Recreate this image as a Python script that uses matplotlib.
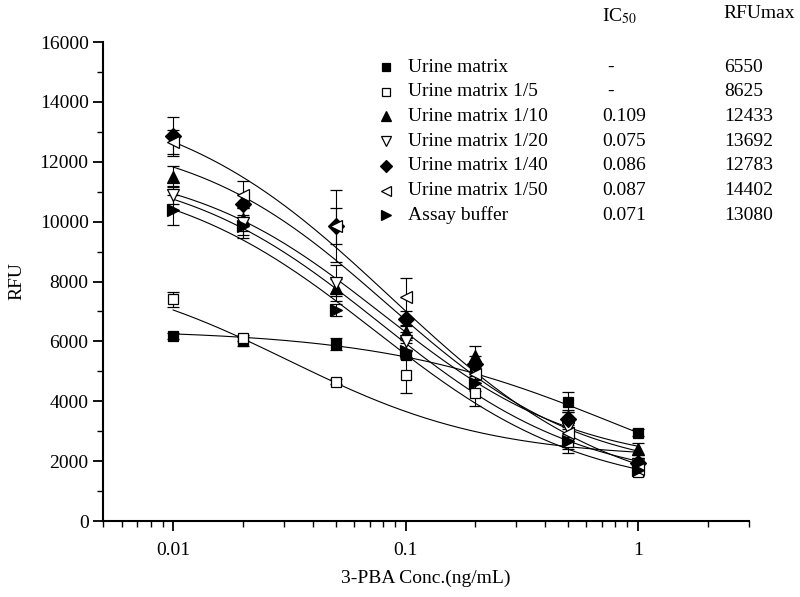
import numpy as np
import matplotlib
matplotlib.use("Agg")
from matplotlib import pyplot as plt
from matplotlib.lines import Line2D
from matplotlib.ticker import LogLocator, NullFormatter, MultipleLocator, FixedLocator, FixedFormatter

plt.rcParams.update({
    "font.family": "Liberation Serif",
    "font.size": 14,
    "mathtext.fontset": "stix",
})

conc = [0.01, 0.02, 0.05, 0.1, 0.2, 0.5, 1.0]

names = ["Urine matrix", "Urine matrix 1/5", "Urine matrix 1/10", "Urine matrix 1/20",
         "Urine matrix 1/40", "Urine matrix 1/50", "Assay buffer"]
ic50_txt = ["-", "-", "0.109", "0.075", "0.086", "0.087", "0.071"]
rfumax_txt = ["6550", "8625", "12433", "13692", "12783", "14402", "13080"]

rfu_urine = [6180, 6000, 5920, 5550, 5150, 3980, 2950]
rfu_1_5 = [7400, 6100, 4650, 4880, 4280, 2650, 1650]
rfu_1_10 = [11500, 10100, 7800, 6300, 5500, 3470, 2420]
rfu_1_20 = [10900, 9950, 7950, 6000, 5000, 3100, 1900]
rfu_1_40 = [12850, 10580, 9850, 6750, 5250, 3400, 1950]
rfu_1_50 = [12650, 10900, 9850, 7480, 4900, 2950, 1750]
rfu_buffer = [10380, 9850, 7050, 5680, 4600, 2680, 1700]

err_urine = [100, 150, 200, 150, 200, 330, 120]
err_1_5 = [250, 100, 80, 600, 450, 250, 150]
err_1_10 = [350, 400, 300, 250, 330, 250, 200]
err_1_20 = [300, 500, 600, 300, 300, 300, 150]
err_1_40 = [650, 350, 1200, 250, 250, 250, 150]
err_1_50 = [400, 450, 600, 650, 300, 350, 150]
err_buffer = [500, 300, 200, 250, 250, 400, 150]

# four-parameter logistic fits: top, slope, midpoint, bottom
fit_top = [6400, 8625, 12000, 12000, 13000, 14402, 11800]
fit_slope = [0.844, 1.0, 1.033, 0.99, 1.025, 0.9, 0.96]
fit_mid = [0.83, 0.0314, 0.0798, 0.078, 0.0833, 0.087, 0.074]
fit_bottom = [0, 2100, 1800, 1200, 1500, 500, 900]

series = [rfu_urine, rfu_1_5, rfu_1_10, rfu_1_20, rfu_1_40, rfu_1_50, rfu_buffer]
errors = [err_urine, err_1_5, err_1_10, err_1_20, err_1_40, err_1_50, err_buffer]
markers = ["s", "s", "^", "v", "D", "<", ">"]
filled = [True, False, True, False, True, False, True]
msizes = [7.5, 7.5, 9, 9, 8, 9, 9]


def four_pl(x, a, b, c, d):
    return d + (a - d) / (1 + (x / c) ** b)


fig = plt.figure(figsize=(8, 5.97), dpi=100)
ax = fig.add_axes([0.129, 0.1273, 0.807, 0.8023])

xs = np.logspace(np.log10(conc[0]), np.log10(conc[-1]), 200)
for i, (y, e) in enumerate(zip(series, errors)):
    ax.plot(xs, four_pl(xs, fit_top[i], fit_slope[i], fit_mid[i], fit_bottom[i]),
            color="black", lw=0.8, zorder=2)
    ax.errorbar(conc, y, yerr=e, fmt=markers[i], ms=msizes[i],
                mfc="black" if filled[i] else "white",
                mec="black", mew=0.9, ecolor="black", elinewidth=0.8, capsize=4,
                capthick=0.8, zorder=3)

ax.set_xscale("log")
ax.set_xlim(0.005, 3)
ax.set_ylim(0, 16000)
ax.yaxis.set_major_locator(MultipleLocator(2000))
ax.yaxis.set_minor_locator(MultipleLocator(1000))
ax.xaxis.set_major_locator(FixedLocator([0.01, 0.1, 1]))
ax.xaxis.set_major_formatter(FixedFormatter(["0.01", "0.1", "1"]))
ax.xaxis.set_minor_locator(LogLocator(base=10, subs=np.arange(2, 10)))
ax.xaxis.set_minor_formatter(NullFormatter())
for side in ["top", "right"]:
    ax.spines[side].set_visible(False)
for side in ["left", "bottom"]:
    ax.spines[side].set_linewidth(1.5)
ax.tick_params(which="major", direction="out", length=7, width=1.3, labelsize=14)
ax.tick_params(which="minor", direction="out", length=4, width=1.0)
ax.tick_params(axis="x", which="major", pad=8)
ax.set_xlabel("3-PBA Conc.(ng/mL)", fontsize=14, labelpad=8)
ax.set_ylabel("RFU", fontsize=14, labelpad=10)

# legend table
W, H = 800, 597
row0, step = 67, 24.7
fig.text(602 / W, 1 - 16 / H, "IC$_{50}$", fontsize=14, va="center", ha="left")
fig.text(723 / W, 1 - 13 / H, "RFUmax", fontsize=14, va="center", ha="left")
for i, (n, ic, rm) in enumerate(zip(names, ic50_txt, rfumax_txt)):
    yy = 1 - (row0 + i * step) / H
    fig.add_artist(Line2D([386 / W], [yy], marker=markers[i], ls="none",
                          ms=msizes[i] - 1.5, mfc="black" if filled[i] else "white",
                          mec="black", mew=0.9))
    fig.text(408 / W, yy, n, fontsize=14, va="center", ha="left")
    fig.text((607 if ic == "-" else 602) / W, yy, ic, fontsize=14, va="center", ha="left")
    fig.text(724 / W, yy, rm, fontsize=14, va="center", ha="left")

fig.savefig("out.png", dpi=100)
